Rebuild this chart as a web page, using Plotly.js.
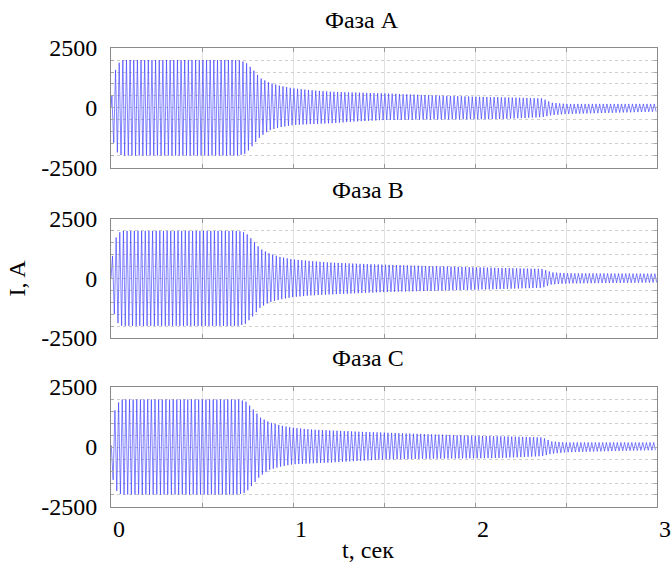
<!DOCTYPE html>
<html>
<head>
<meta charset="utf-8">
<script src="https://cdn.plot.ly/plotly-3.0.1.min.js"></script>
<style>body{margin:0;background:#fff}</style>
</head>
<body>
<div id="chart" style="width:672px;height:566px"></div>
<script>
// Envelope of the current oscillation (t in seconds, I in A)
const envT = [0, 0.01, 0.02, 0.04, 0.06, 0.70, 0.74, 0.78, 0.82, 0.87, 0.93, 1.00, 1.10, 1.20, 1.35, 1.50, 1.75, 2.00, 2.15, 2.37, 2.42, 2.50, 2.75, 3.00];
const upA  = [100, 900, 1500, 1850, 2000, 2000, 1900, 1600, 1250, 1050, 920, 820, 740, 680, 640, 610, 530, 470, 445, 400, 220, 170, 170, 170];
const loA  = [-300, -1200, -1700, -1900, -1980, -1980, -1900, -1550, -1200, -930, -800, -710, -670, -640, -560, -500, -480, -470, -460, -380, -300, -250, -200, -150];
const upB  = [200, 1100, 1600, 1900, 2000, 2000, 1920, 1600, 1250, 1050, 900, 800, 730, 670, 620, 580, 520, 470, 440, 400, 260, 220, 210, 200];
const loB  = [-200, -1000, -1600, -1900, -1990, -1990, -1900, -1580, -1220, -1000, -880, -780, -710, -670, -620, -570, -520, -470, -440, -390, -250, -210, -190, -170];
const upC  = [-100, 800, 1500, 1850, 1980, 1980, 1900, 1580, 1230, 1030, 900, 800, 730, 690, 640, 600, 530, 470, 445, 400, 230, 190, 190, 190];
const loC  = [-500, -1300, -1700, -1920, -1980, -1980, -1900, -1560, -1210, -950, -820, -720, -680, -650, -580, -520, -490, -470, -455, -380, -280, -220, -170, -130];
const phaseNames = ['Фаза A', 'Фаза B', 'Фаза C'];
const xTickVals = [0, 0.5, 1, 1.5, 2, 2.5, 3];
const xTickText = ['0', '', '1', '', '2', '', '3'];
const yTickVals = [-2500, -2000, -1500, -1000, -500, 0, 500, 1000, 1500, 2000, 2500];
const yTickText = ['-2500', '', '', '', '', '0', '', '', '', '', '2500'];
const gridFreq = 50; // Hz, network frequency of the current

function envAt(t, arr) {
  for (let i = 0; i < envT.length - 1; i++) {
    if (t >= envT[i] && t <= envT[i + 1]) {
      const f = (t - envT[i]) / (envT[i + 1] - envT[i]);
      return arr[i] + f * (arr[i + 1] - arr[i]);
    }
  }
  return arr[arr.length - 1];
}
// successive half-cycle peaks of the 50 Hz current, bounded by the envelope
function peaks(up, lo, shift) {
  const half = 1 / (2 * gridFreq);
  const x = [0], y = [0];
  let k = 0;
  for (let t = half * shift; t <= 3; t += half, k++) {
    x.push(t);
    y.push(envAt(t, k % 2 === 0 ? up : lo));
  }
  return {x, y};
}

const sets = [[upA, loA, 0.5], [upB, loB, 0.83], [upC, loC, 0.17]];
const traces = sets.map((s, i) => {
  const p = peaks(s[0], s[1], s[2]);
  return {
    x: p.x, y: p.y, type: 'scatter', mode: 'lines',
    line: {color: 'rgba(50,50,255,0.6)', width: 1.0},
    xaxis: i === 0 ? 'x' : 'x' + (i + 1),
    yaxis: i === 0 ? 'y' : 'y' + (i + 1),
    hoverinfo: 'skip', showlegend: false
  };
});

const font = {family: "'Liberation Serif', 'Times New Roman', serif", size: 24, color: '#000'};
const doms = [[0.7386, 1], [0.3682, 0.6275], [0, 0.2614]];
const layout = {
  width: 672, height: 566,
  margin: {l: 111, r: 15, t: 48, b: 59},
  paper_bgcolor: '#fff', plot_bgcolor: '#fff',
  font: font, showlegend: false,
  annotations: [
    {text: phaseNames[0], xref: 'paper', yref: 'paper', x: 0.46, y: 1.060, showarrow: false, xanchor: 'center', yanchor: 'middle', font: font},
    {text: phaseNames[1], xref: 'paper', yref: 'paper', x: 0.47, y: 0.690, showarrow: false, xanchor: 'center', yanchor: 'middle', font: font},
    {text: phaseNames[2], xref: 'paper', yref: 'paper', x: 0.47, y: 0.325, showarrow: false, xanchor: 'center', yanchor: 'middle', font: font},
    {text: 'I, A', xref: 'paper', yref: 'paper', x: -0.172, y: 0.498, showarrow: false, textangle: -90, xanchor: 'center', yanchor: 'middle', font: font},
    {text: 't, сек', xref: 'paper', yref: 'paper', x: 0.47, y: -0.094, showarrow: false, xanchor: 'center', yanchor: 'middle', font: font}
  ]
};
for (let i = 0; i < 3; i++) {
  const xs = i === 0 ? '' : String(i + 1);
  layout['xaxis' + xs] = {
    domain: [0, 1], anchor: 'y' + xs, range: [0, 3],
    tickmode: 'array', tickvals: xTickVals, ticktext: xTickText,
    showticklabels: i === 2, ticks: 'inside', ticklen: 4, tickcolor: '#999',
    showgrid: true, gridcolor: '#e2e2e2', gridwidth: 1,
    showline: true, linecolor: '#8a8a8a', linewidth: 1, mirror: 'ticks',
    zeroline: false, tickfont: font, ticklabelshift: 8, ticklabeloverflow: 'allow', ticklabelstandoff: 0
  };
  layout['yaxis' + xs] = {
    domain: doms[i], anchor: 'x' + xs, range: [-2500, 2500],
    tickmode: 'array', tickvals: yTickVals, ticktext: yTickText,
    ticks: 'inside', ticklen: 3, tickcolor: '#aaa',
    showgrid: true, gridcolor: '#cfcfcf', griddash: 'dot', gridwidth: 1,
    showline: true, linecolor: '#8a8a8a', linewidth: 1, mirror: 'ticks',
    zeroline: false, tickfont: font, ticklabelstandoff: 8
  };
}
Plotly.newPlot('chart', traces, layout, {staticPlot: true, displayModeBar: false});
</script>
</body>
</html>
